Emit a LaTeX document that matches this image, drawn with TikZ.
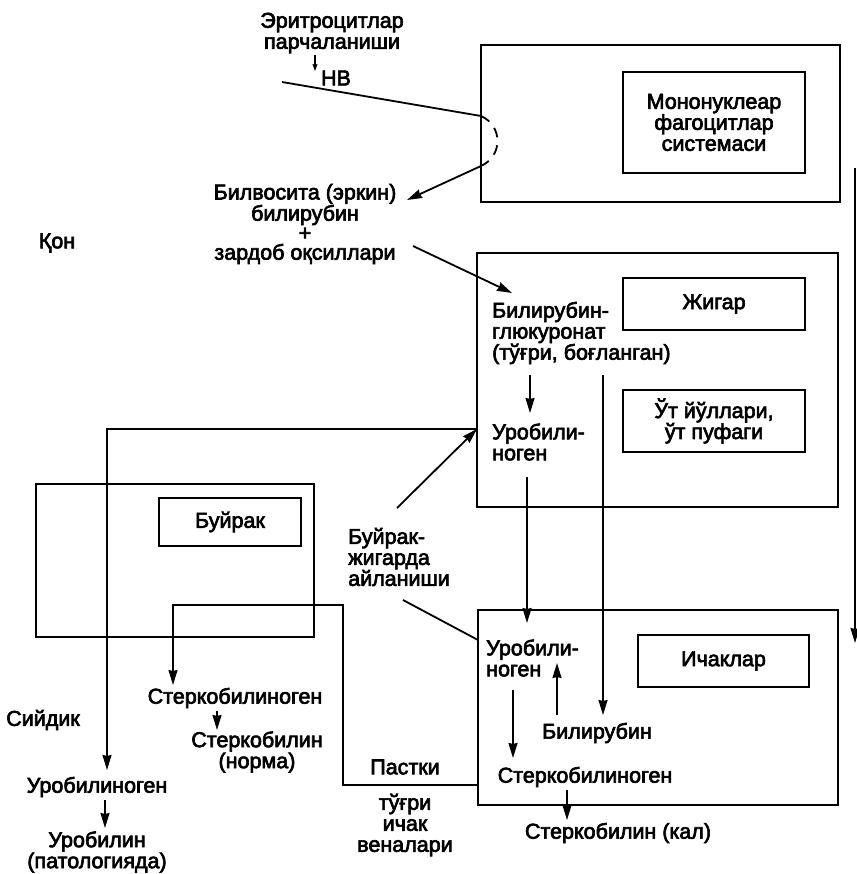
\documentclass[tikz,border=0pt]{standalone}
\usepackage{fontspec}
\setmainfont{Liberation Sans}[BoldFont=Liberation Sans, BoldFeatures={FakeBold=3}]
\usetikzlibrary{arrows.meta}

\tikzset{
  caixa/.style={draw, line width=2pt, inner sep=0pt},
  orgao/.style={draw, line width=1.8pt, align=center, inner sep=0pt, font=\fontsize{21.5}{21}\selectfont\bfseries},
  texto/.style={align=center, inner sep=0pt, font=\fontsize{21.5}{21}\selectfont\bfseries},
  seta/.style={line width=1.8pt, -{Stealth[length=15pt,width=9pt,inset=1pt]}},
  setinha/.style={line width=1.1pt, -{Stealth[length=7pt,width=5pt,inset=1pt]}},
  linha/.style={line width=1.8pt}
}

\begin{document}
\begin{tikzpicture}[x=1pt,y=-1pt]
    \useasboundingbox (0,0) rectangle (856,874);

    % Sistema mononuclear fagocitario
    \node[caixa, minimum width=359pt, minimum height=157pt] (mps) at (660.5,123.5) {};
    \node[orgao, minimum width=182pt, minimum height=101pt] (mpsname) at (714,122.5) {Мононуклеар\\фагоцитлар\\системаси};

    % Figado
    \node[caixa, minimum width=361pt, minimum height=254pt] (liver) at (657.5,380) {};
    \node[orgao, minimum width=182pt, minimum height=52pt] (livername) at (714,304) {Жигар};
    \node[orgao, minimum width=182pt, minimum height=62pt] (bilename) at (714,421) {Ўт йўллари,\\ўт пуфаги};

    % Intestinos
    \node[caixa, minimum width=360pt, minimum height=195pt] (gut) at (658,707.5) {};
    \node[orgao, minimum width=171pt, minimum height=52pt] (gutname) at (723.5,661) {Ичаклар};

    % Rim
    \node[caixa, minimum width=278pt, minimum height=153pt] (kidney) at (175,560.5) {};
    \node[orgao, minimum width=142pt, minimum height=48pt] (kidneyname) at (230,522) {Буйрак};

    % Textos do sangue
    \node[texto] (hemolysis) at (332,33) {Эритроцитлар\\парчаланиши};
    \node[texto] (hb) at (336,78) {НВ};
    \node[texto, font=\fontsize{21.5}{19.5}\selectfont\bfseries] (freebil) at (305,224) {Билвосита (эркин)\\билирубин\\+\\зардоб оқсиллари};
    \node[texto] (blood) at (57,243) {Қон};

    % Textos do figado
    \node[texto, align=left, anchor=west] (conjbil) at (492,333) {Билирубин-\\глюкуронат\\(тўғри, боғланган)};
    \node[texto, align=left, anchor=west] (uroliver) at (492,442) {Уробили-\\ноген};
    \node[texto, align=left, anchor=west] (recirc) at (348,557) {Буйрак-\\жигарда\\айланиши};

    % Textos do intestino
    \node[texto, align=left, anchor=west] (urogut) at (486,658) {Уробили-\\ноген};
    \node[texto] (bilgut) at (597,733) {Билирубин};
    \node[texto] (sterkgut) at (585,777) {Стеркобилиноген};
    \node[texto] (feces) at (618,833) {Стеркобилин (кал)};

    % Textos de baixo
    \node[texto] (urine) at (43,720) {Сийдик};
    \node[texto] (urourine) at (97,787) {Уробилиноген};
    \node[texto] (urobilin) at (97,852) {Уробилин\\(патологияда)};
    \node[texto] (sterkvein) at (235,698) {Стеркобилиноген};
    \node[texto] (sterkobilin) at (257,752) {Стеркобилин\\(норма)};
    \node[texto] (lowveins) at (405,767) {Пастки};
    \node[texto] (rectveins) at (405,825) {тўғри\\ичак\\веналари};

    % Pontos auxiliares
    \coordinate (hbstart) at (282,82);
    \coordinate (mpsin) at (481,116);
    \coordinate (mpsout) at (481,166);
    \coordinate (freein) at (407,200);
    \coordinate (serumout) at (413,246);
    \coordinate (conjin) at (512,293);
    \coordinate (liverleft) at (477,429);
    \coordinate (urinein) at (107,770);
    \coordinate (recircup) at (397,508);
    \coordinate (recircdown) at (403,600);
    \coordinate (gutleft) at (478,640);
    \coordinate (veinout) at (478,785);
    \coordinate (veinturn) at (343,605);
    \coordinate (sterkin) at (173,685);

    % Hemoglobina ate o SMF
    \draw[setinha] (315,55) -- (315,71);
    \draw[linha] (hbstart) -- (mpsin);
    \draw[linha, dash pattern=on 10pt off 8pt] (mpsin) .. controls (503,126) and (503,156) .. (mpsout);
    \draw[seta] (mpsout) -- (freein);

    % Sangue ate o figado
    \draw[seta] (serumout) -- (conjin);
    \draw[seta] (530,375) -- (530,413);
    \draw[seta] (527,477) -- (527,623);
    \draw[seta] (603,375) -- (603,715);
    \draw[seta] (855,168) -- (855,643);

    % Circulacao rim-figado
    \draw[seta] (liverleft) -| (urinein);
    \draw[seta] (recircup) -- (liverleft);
    \draw[linha] (recircdown) -- (gutleft);

    % Veias retais
    \draw[seta] (veinout) -| (veinturn) -| (sterkin);

    % Dentro do intestino
    \draw[seta] (557,715) -- (557,663);
    \draw[seta] (513,690) -- (513,758);
    \draw[seta] (567,790) -- (567,820);

    % Setas pequenas
    \draw[seta] (217,711) -- (217,730);
    \draw[seta] (105,800) -- (105,828);

\end{tikzpicture}
\end{document}
